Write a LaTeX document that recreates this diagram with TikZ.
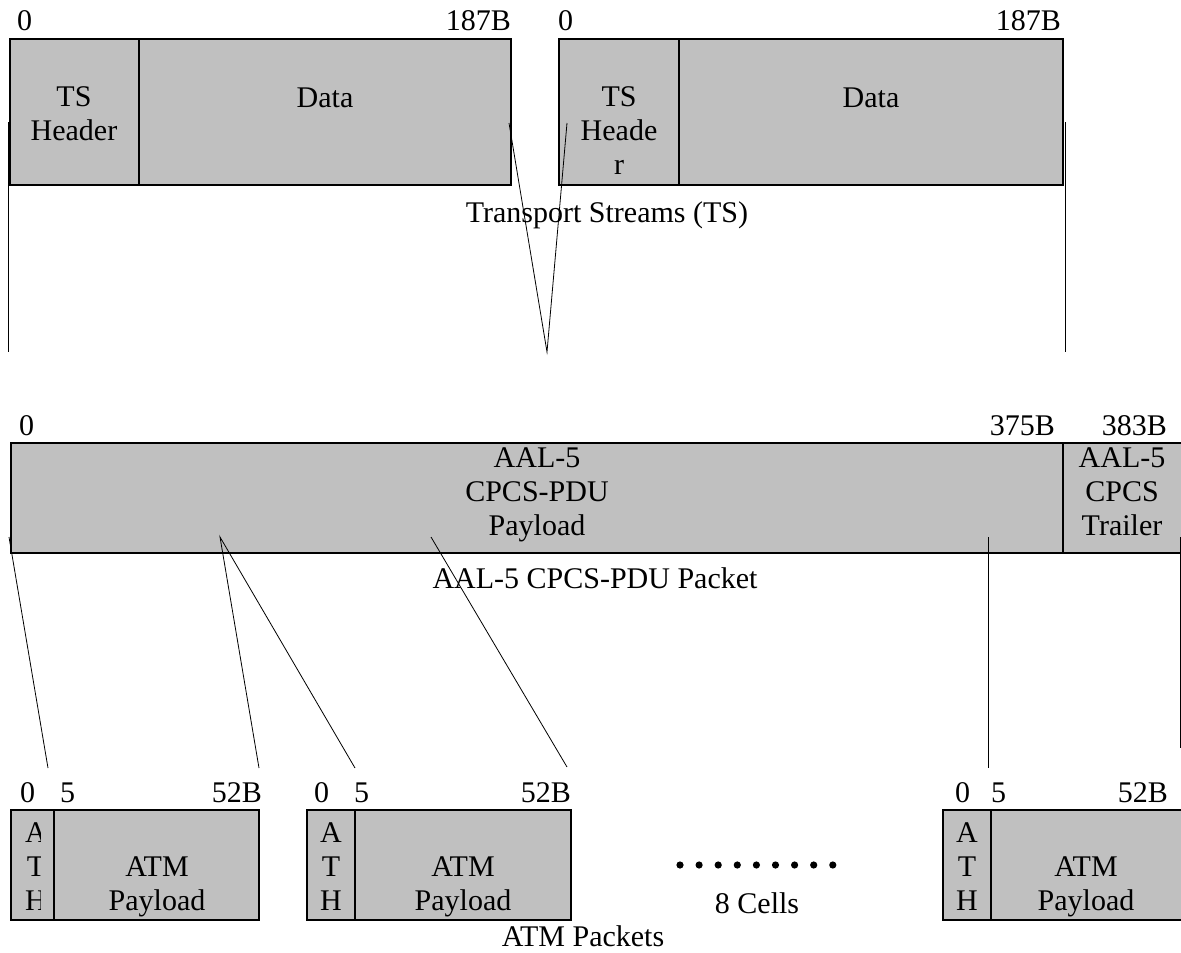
\documentclass[tikz,border=0pt]{standalone}
\usepackage{fontspec}
\setmainfont{Liberation Serif}
\usepackage{tikz}
\usepackage{xcolor}
\definecolor{CellGray}{HTML}{C0C0C0}
\tikzset{
  cell/.style={draw=black,fill=CellGray,line width=1.8pt},
  txt/.style={inner sep=0pt,align=center,font=\fontsize{30}{34}\selectfont},
  link/.style={line width=0.8pt}
}

\begin{document}
\begin{tikzpicture}[x=1pt,y=-1pt]
  \useasboundingbox (0,0) rectangle (1181,953);
  \draw[cell] (10,39) rectangle (139,185);
  \draw[cell] (139,39) rectangle (511,185);
  \draw[cell] (559,39) rectangle (679,185);
  \draw[cell] (679,39) rectangle (1063,185);
  \node[txt] (tsHdrA) at (74,114) {TS\\Header};
  \node[txt,anchor=base] (tsDataA) at (325,107) {Data};
  \node[txt] (tsHdrB) at (619,131) {TS\\Heade\\r};
  \node[txt,anchor=base] (tsDataB) at (871,107) {Data};
  \node[txt,anchor=base west] (tsZeroA) at (17,30) {0};
  \node[txt,anchor=base east] (tsEndA) at (511,30) {187B};
  \node[txt,anchor=base west] (tsZeroB) at (558,30) {0};
  \node[txt,anchor=base east] (tsEndB) at (1061,30) {187B};
  \node[txt,anchor=base] (tsName) at (607,222) {Transport Streams (TS)};

  \draw[cell] (11,443) rectangle (1063,553);
  \draw[cell] (1063,443) rectangle (1186,553);
  \node[txt] (pduPayload) at (537,495) {AAL-5\\CPCS-PDU\\Payload};
  \node[txt] (pduTrailer) at (1122,492) {AAL-5\\CPCS\\Trailer};
  \node[txt,anchor=base west] (pduZero) at (19,435) {0};
  \node[txt,anchor=base east] (pduMid) at (1055,435) {375B};
  \node[txt,anchor=base east] (pduEnd) at (1167,435) {383B};
  \node[txt,anchor=base] (pduName) at (595,588) {AAL-5 CPCS-PDU Packet};

  \draw[cell] (11,810) rectangle (54,920);
  \draw[cell] (54,810) rectangle (259,920);
  \draw[cell] (307,810) rectangle (355,920);
  \draw[cell] (355,810) rectangle (571,920);
  \draw[cell] (943,810) rectangle (991,920);
  \draw[cell] (991,810) rectangle (1190,920);
  \begin{scope}
    \clip (11,810) rectangle (40,920);
    \node[txt] (atmHdrA) at (36,867) {A\\T\\H};
  \end{scope}
  \node[txt] (atmHdrB) at (331,867) {A\\T\\H};
  \node[txt] (atmHdrC) at (967,867) {A\\T\\H};
  \node[txt] (atmPayA) at (157,887) {ATM\\Payload};
  \node[txt] (atmPayB) at (463,887) {ATM\\Payload};
  \node[txt] (atmPayC) at (1086,887) {ATM\\Payload};
  \node[txt,anchor=base west] (atmZeroA) at (20,802) {0};
  \node[txt,anchor=base west] (atmFiveA) at (60,802) {5};
  \node[txt,anchor=base east] (atmEndA) at (262,802) {52B};
  \node[txt,anchor=base west] (atmZeroB) at (314,802) {0};
  \node[txt,anchor=base west] (atmFiveB) at (354,802) {5};
  \node[txt,anchor=base east] (atmEndB) at (571,802) {52B};
  \node[txt,anchor=base west] (atmZeroC) at (955,802) {0};
  \node[txt,anchor=base west] (atmFiveC) at (991,802) {5};
  \node[txt,anchor=base east] (atmEndC) at (1168,802) {52B};
  \foreach \i in {0,...,8}
    \fill (680+\i*19.1,865) circle (3.6pt);
  \node[txt,anchor=base] (cellCount) at (757,913) {8 Cells};
  \node[txt,anchor=base] (atmName) at (583,946) {ATM Packets};

  % mapping lines
  \coordinate (tsLeft) at (8,122);
  \coordinate (tsLeftEnd) at (8,352);
  \coordinate (tsDataEnd) at (509,123);
  \coordinate (tsHdrStart) at (567,123);
  \coordinate (tsJoin) at (547,352);
  \coordinate (tsRight) at (1065,122);
  \coordinate (tsRightEnd) at (1065,352);
  \draw[link] (tsLeft) -- (tsLeftEnd);
  \draw[link] (tsDataEnd) -- (tsJoin) -- (tsHdrStart);
  \draw[link] (tsRight) -- (tsRightEnd);

  \coordinate (pduLeft) at (9,537);
  \coordinate (pduCutA) at (220,537);
  \coordinate (pduCutB) at (431,537);
  \coordinate (pduCutC) at (988,537);
  \coordinate (pduRight) at (1180,537);
  \coordinate (cellOneHdr) at (48,768);
  \coordinate (cellOneEnd) at (259,768);
  \coordinate (cellTwoHdr) at (355,768);
  \coordinate (cellTwoEnd) at (567,767);
  \coordinate (cellLastHdr) at (988,768);
  \coordinate (cellLastEnd) at (1180,748);
  \draw[link] (pduLeft) -- (cellOneHdr);
  \draw[link] (cellOneEnd) -- (pduCutA) -- (cellTwoHdr);
  \draw[link] (pduCutB) -- (cellTwoEnd);
  \draw[link] (pduCutC) -- (cellLastHdr);
  \draw[link] (pduRight) -- (cellLastEnd);
\end{tikzpicture}
\end{document}
